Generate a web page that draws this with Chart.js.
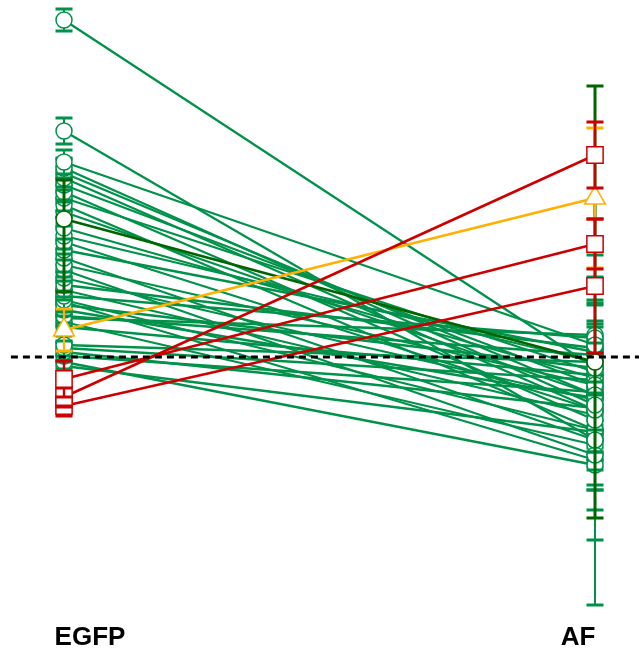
<!DOCTYPE html>
<html><head><meta charset="utf-8">
<script src="https://cdn.jsdelivr.net/npm/chart.js@4"></script>
<style>html,body{margin:0;padding:0;background:#fff}canvas{display:block}</style>
</head><body>
<canvas id="c" width="639" height="648"></canvas>
<script>
// Categories (x positions 0 and 1)
const categories = ['EGFP', 'AF'];

// Green group
const greenEGFP = [3.37,2.26,1.95,1.89,1.84,1.79,1.72,1.65,1.59,1.52,1.45,1.29,1.21,1.15,1.07,0.99,0.92,0.87,0.79,0.72,0.67,0.61,0.57,0.52,0.47,0.41,0.35,0.30,0.12,0.09,0.05,0.01,-0.05,-0.09,0.39,0.55];
const greenAF   = [-0.11,-0.83,0.12,-0.48,-0.38,-0.53,-0.28,-0.63,-0.15,-0.73,-0.38,-0.21,-0.05,-0.53,0.05,-0.83,-0.28,-0.98,-0.43,0.09,-0.58,0.19,-0.73,-0.11,-0.41,0.02,-0.88,-0.18,-0.05,-0.23,-0.51,-0.35,-1.08,-0.75,0.22,-1.03];
const greenErrEGFP = [0.11,0.13,0.12,0.10,0.14,0.12,0.15,0.10,0.13,0.12,0.14,0.11,0.13,0.12,0.10,0.14,0.12,0.11,0.13,0.12,0.10,0.14,0.12,0.11,0.13,0.10,0.12,0.14,0.11,0.12,0.10,0.13,0.12,0.11,0.14,0.12];
const greenErrAF   = [0.25,0.45,0.90,0.30,0.40,0.28,0.45,0.32,0.22,0.60,0.30,0.26,0.35,0.42,0.28,0.30,0.36,1.50,0.33,0.45,0.40,0.38,0.30,0.27,0.44,0.34,0.45,0.30,0.25,0.32,0.40,0.28,0.75,0.35,0.58,0.50];

// Dark green group (asymmetric errors: [below, above])
const darkEGFP = [1.38];
const darkAF = [-0.05];
const darkErrEGFP = [[0.73, 0.39]];
const darkErrAF = [[1.56, 2.76]];

// Orange group
const orangeEGFP = [0.27];
const orangeAF = [1.59];
const orangeErrEGFP = [0.21];
const orangeErrAF = [0.70];

// Red group
const redEGFP = [-0.22, -0.40, -0.49];
const redAF = [1.13, 2.02, 0.71];
const redErrEGFP = [0.18, 0.10, 0.10];
const redErrAF = [0.25, 0.33, 0.67];

const referenceLine = 0;

const GREEN = '#00924a', DARK = '#006400', ORANGE = '#ffb000', RED = '#cc0000';
// where each category's label text is centred (in x-axis units)
const LABEL_POS = [0.049, 0.968];

const datasets = [];
function addGroup(egfp, af, errE, errA, color, style, radius, order, errWidth) {
  for (let i = 0; i < egfp.length; i++) {
    datasets.push({
      data: [{x: 0, y: egfp[i]}, {x: 1, y: af[i]}],
      errors: [errE[i], errA[i]],
      errWidth: errWidth,
      borderColor: color,
      backgroundColor: '#ffffff',
      pointBackgroundColor: '#ffffff',
      pointBorderColor: color,
      pointBorderWidth: 1.5,
      pointStyle: style,
      pointRadius: radius,
      borderWidth: errWidth > 2 ? 2.6 : 2.3,
      showLine: true,
      order: order,
      clip: false
    });
  }
}
addGroup(redEGFP, redAF, redErrEGFP, redErrAF, RED, 'rect', 11.5, 0, 2.4);
addGroup(orangeEGFP, orangeAF, orangeErrEGFP, orangeErrAF, ORANGE, 'triangle', 12, 1, 2.2);
addGroup(darkEGFP, darkAF, darkErrEGFP, darkErrAF, DARK, 'circle', 8, 2, 3);
addGroup(greenEGFP, greenAF, greenErrEGFP, greenErrAF, GREEN, 'circle', 8, 3, 2);

const errorBars = {
  id: 'errorBars',
  beforeDatasetDraw(chart, args) {
    const ds = chart.data.datasets[args.index];
    const ctx = chart.ctx, xs = chart.scales.x, ys = chart.scales.y;
    ctx.save();
    ctx.strokeStyle = ds.borderColor;
    ds.data.forEach((p, j) => {
      const e = ds.errors[j];
      const lo = Array.isArray(e) ? e[0] : e, hi = Array.isArray(e) ? e[1] : e;
      const px = xs.getPixelForValue(p.x);
      const y1 = ys.getPixelForValue(p.y - lo), y2 = ys.getPixelForValue(p.y + hi);
      ctx.lineWidth = ds.errWidth;
      ctx.beginPath(); ctx.moveTo(px, y1); ctx.lineTo(px, y2); ctx.stroke();
      ctx.lineWidth = 3;
      ctx.beginPath();
      ctx.moveTo(px - 8.5, y1); ctx.lineTo(px + 8.5, y1);
      ctx.moveTo(px - 8.5, y2); ctx.lineTo(px + 8.5, y2);
      ctx.stroke();
    });
    ctx.restore();
  }
};

const refLine = {
  id: 'refLine',
  afterDatasetsDraw(chart) {
    const ctx = chart.ctx, xs = chart.scales.x, ys = chart.scales.y;
    const y = ys.getPixelForValue(referenceLine);
    ctx.save();
    ctx.strokeStyle = '#000';
    ctx.lineWidth = 3;
    ctx.setLineDash([7, 5]);
    ctx.beginPath();
    ctx.moveTo(xs.getPixelForValue(-0.1), y);
    ctx.lineTo(chart.chartArea.right, y);
    ctx.stroke();
    ctx.restore();
  }
};

new Chart(document.getElementById('c'), {
  type: 'line',
  data: { datasets },
  options: {
    responsive: false,
    animation: false,
    layout: { padding: { left: 0, right: 0, top: 0, bottom: -13 }, autoPadding: false },
    plugins: { legend: { display: false }, tooltip: { enabled: false } },
    scales: {
      x: {
        type: 'linear',
        min: -64 / 531,
        max: 1 + 44 / 531,
        grid: { display: false, drawTicks: false },
        border: { display: false },
        afterBuildTicks: (s) => { s.ticks = LABEL_POS.map(v => ({value: v})); },
        ticks: {
          padding: 10,
          color: '#000',
          maxRotation: 0,
          autoSkip: false,
          font: { family: 'Liberation Sans, Arial, sans-serif', size: 26, weight: 'bold', lineHeight: 1 },
          callback: (v) => categories[LABEL_POS.indexOf(v)]
        }
      },
      y: {
        display: false,
        min: -2.58,
        max: 3.57
      }
    }
  },
  plugins: [errorBars, refLine]
});
</script>
</body></html>
